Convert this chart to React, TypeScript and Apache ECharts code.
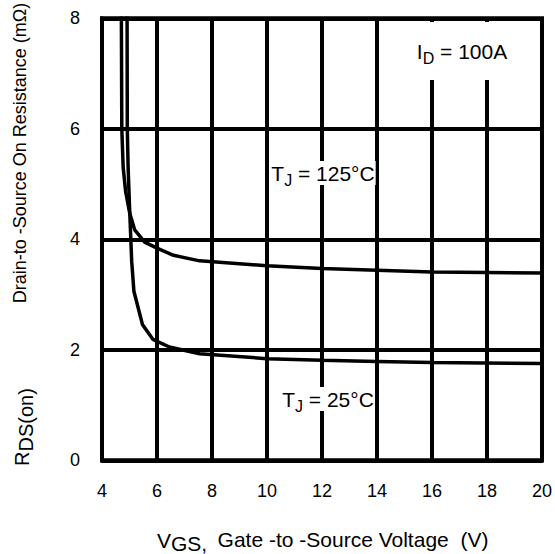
import React, { useEffect, useRef } from "react";
import * as echarts from "echarts";

// T_J = 125°C curve
const vgs125 = [4.7, 4.72, 4.77, 4.86, 5.01, 5.19, 5.55, 6.04, 6.6, 7.55, 10, 12, 14, 16, 18, 20];
const rds125 = [8.6, 6.0, 5.3, 4.86, 4.47, 4.17, 3.95, 3.83, 3.71, 3.61, 3.52, 3.47, 3.44, 3.41, 3.4, 3.39];

// T_J = 25°C curve
const vgs25 = [4.91, 4.92, 4.95, 5.0, 5.04, 5.08, 5.16, 5.47, 5.85, 6.45, 7.55, 10, 12, 14, 16, 20];
const rds25 = [8.6, 6.0, 5.3, 4.6, 4.1, 3.6, 3.06, 2.46, 2.19, 2.05, 1.93, 1.84, 1.81, 1.79, 1.77, 1.75];

const xMin = 4;
const xMax = 20;
const xStep = 2;
const yMin = 0;
const yMax = 8;
const yStep = 2;

const xTitleMain = "V";
const xTitleSub = "GS,";
const xTitleRest = "Gate -to -Source Voltage  (V)";
const yTitleMain = "R";
const yTitleSub = "DS(on)";
const yTitleRest = "Drain-to -Source On Resistance (mΩ)";

const FONT = "'Liberation Sans', Arial, Helvetica, sans-serif";

function richStyles(size: number, lh: number, subSize: number, subLh: number) {
  return {
    m: { fontSize: size, fontFamily: FONT, fill: "#000", lineHeight: lh, verticalAlign: "middle" },
    s: { fontSize: subSize, fontFamily: FONT, fill: "#000", lineHeight: subLh, verticalAlign: "bottom" },
  };
}

export default function App() {
  const ref = useRef<HTMLDivElement>(null);
  useEffect(() => {
    const chart = echarts.init(ref.current!, null, { renderer: "svg" });
    const labelRich = richStyles(21, 30, 16, 14);
    chart.setOption({
      animation: false,
      backgroundColor: "#fff",
      grid: {
        left: 102,
        right: 10.5,
        top: 18.3,
        bottom: 93.7,
        show: true,
        borderColor: "#000",
        borderWidth: 4,
      },
      xAxis: {
        type: "value",
        min: xMin,
        max: xMax,
        interval: xStep,
        axisLine: { show: true, lineStyle: { color: "#000", width: 4 } },
        axisTick: { show: false },
        splitLine: { show: true, lineStyle: { color: "#000", width: 4 } },
        axisLabel: { color: "#000", fontSize: 18, fontFamily: FONT, margin: 22 },
      },
      yAxis: {
        type: "value",
        min: yMin,
        max: yMax,
        interval: yStep,
        axisLine: { show: true, lineStyle: { color: "#000", width: 4 } },
        axisTick: { show: false },
        splitLine: { show: true, lineStyle: { color: "#000", width: 4 } },
        axisLabel: { color: "#000", fontSize: 18, fontFamily: FONT, margin: 22 },
      },
      series: [
        {
          type: "line",
          name: "125",
          data: vgs125.map((v, i) => [v, rds125[i]]),
          showSymbol: false,
          clip: true,
          lineStyle: { color: "#000", width: 3.5 },
          z: 5,
        },
        {
          type: "line",
          name: "25",
          data: vgs25.map((v, i) => [v, rds25[i]]),
          showSymbol: false,
          clip: true,
          lineStyle: { color: "#000", width: 3.5 },
          z: 5,
        },
      ],
      graphic: [
        {
          type: "text",
          x: 323,
          y: 173,
          z: 100,
          style: {
            text: "{m|T}{s|J}{m| = 125°C}",
            rich: labelRich,
            align: "center",
            verticalAlign: "middle",
            backgroundColor: "#fff",
            padding: [-3, 1],
          },
        },
        {
          type: "text",
          x: 328,
          y: 399,
          z: 100,
          style: {
            text: "{m|T}{s|J}{m| = 25°C}",
            rich: labelRich,
            align: "center",
            verticalAlign: "middle",
            backgroundColor: "#fff",
            padding: [-3, 1],
          },
        },
        {
          type: "text",
          x: 462,
          y: 51,
          z: 100,
          style: {
            text: "{m|I}{s|D}{m| = 100A}",
            rich: labelRich,
            align: "center",
            verticalAlign: "middle",
            backgroundColor: "#fff",
            padding: [14, 12],
          },
        },
        {
          type: "text",
          x: 182,
          y: 540,
          z: 100,
          style: {
            text: `{m|${xTitleMain}}{s|${xTitleSub}}`,
            rich: richStyles(21, 28, 21, 13),
            align: "center",
            verticalAlign: "middle",
          },
        },
        {
          type: "text",
          x: 353,
          y: 539,
          z: 100,
          style: {
            text: xTitleRest,
            fontSize: 21,
            fontFamily: FONT,
            fill: "#000",
            align: "center",
            verticalAlign: "middle",
          },
        },
        {
          type: "text",
          x: 22,
          y: 427,
          rotation: Math.PI / 2,
          z: 100,
          style: {
            text: `{m|${yTitleMain}}{s|${yTitleSub}}`,
            rich: richStyles(20, 28, 20, 12),
            align: "center",
            verticalAlign: "middle",
          },
        },
        {
          type: "text",
          x: 20,
          y: 153,
          rotation: Math.PI / 2,
          z: 100,
          style: {
            text: yTitleRest,
            fontSize: 18,
            fontFamily: FONT,
            fill: "#000",
            align: "center",
            verticalAlign: "middle",
          },
        },
      ],
    });
    return () => chart.dispose();
  }, []);
  return <div ref={ref} style={{ width: 555, height: 554, position: "absolute", left: 0, top: 0 }} />;
}
